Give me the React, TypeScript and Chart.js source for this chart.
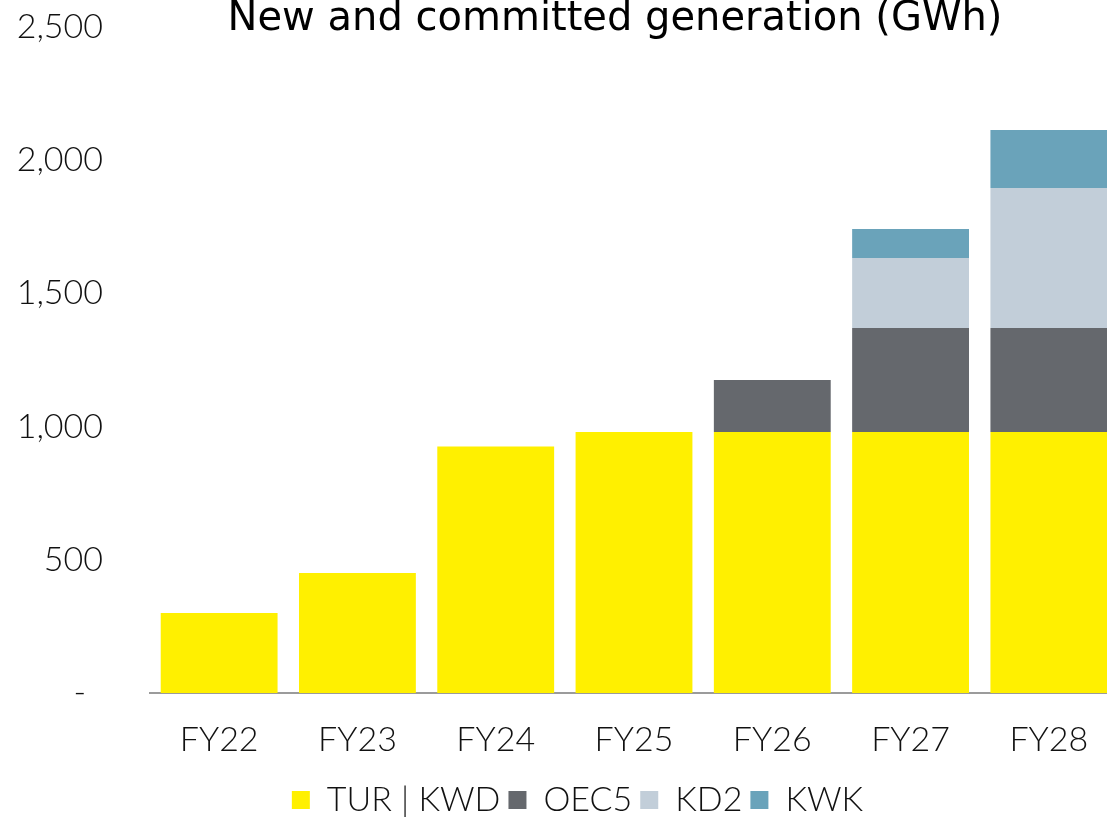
import React, { useEffect, useRef } from 'react';
import { Chart, registerables } from 'chart.js';

Chart.register(...registerables);

const categories = ['FY22', 'FY23', 'FY24', 'FY25', 'FY26', 'FY27', 'FY28'];
const turKwd = [300, 450, 925, 980, 980, 980, 980];
const oec5 = [0, 0, 0, 0, 195, 390, 390];
const kd2 = [0, 0, 0, 0, 0, 263, 526];
const kwk = [0, 0, 0, 0, 0, 109, 217];
const yTicks = [0, 500, 1000, 1500, 2000, 2500];

const seriesNames = ['TUR | KWD', 'OEC5', 'KD2', 'KWK'];
const seriesColors = ['#FFF000', '#65686D', '#C2CED9', '#6AA3BA'];

const FONT = 'Lato, "Open Sans", sans-serif';
const TITLE_FONT = '"DejaVu Sans", sans-serif';

const shiftPlugin = {
  id: 'shiftBlocks',
  beforeDraw(chart: any) {
    const t = chart.titleBlock;
    if (t) {
      const w = t.right - t.left;
      t.left = 615 - w / 2;
      t.right = 615 + w / 2;
    }
    const l = chart.legend;
    if (l) {
      const w = l.right - l.left;
      l.left = 577.5 - w / 2;
      l.right = 577.5 + w / 2;
    }
  },
};

export default function App() {
  const ref = useRef<HTMLCanvasElement>(null);
  useEffect(() => {
    if (!ref.current) return;
    const data = [turKwd, oec5, kd2, kwk];
    const chart = new Chart(ref.current, {
      type: 'bar',
      data: {
        labels: categories,
        datasets: seriesNames.map((name, i) => ({
          label: name,
          data: data[i],
          backgroundColor: seriesColors[i],
          borderWidth: 0,
          categoryPercentage: 1,
          barPercentage: 0.845,
        })),
      },
      plugins: [shiftPlugin],
      options: {
        responsive: false,
        animation: false,
        layout: { padding: { left: 0, right: 2, top: 0, bottom: 0 } },
        plugins: {
          title: {
            display: true,
            text: 'New and committed generation (GWh)',
            color: '#000',
            font: { family: TITLE_FONT, size: 40, weight: 'normal' as any, lineHeight: 1 },
            padding: { top: 0, bottom: -13 },
          },
          legend: {
            display: true,
            position: 'bottom',
            labels: {
              color: '#111',
              font: { family: FONT, size: 34, weight: 300 as any },
              boxWidth: 18,
              boxHeight: 18,
              padding: 8,
            },
          },
          tooltip: { enabled: false },
        },
        scales: {
          x: {
            stacked: true,
            grid: { display: false, drawTicks: false },
            border: { display: true, color: '#9B9B9B', width: 2 },
            afterFit(scale: any) {
              scale.height = 82;
            },
            ticks: {
              color: '#111',
              font: { family: FONT, size: 34, weight: 300 as any },
              padding: 27,
            },
          },
          y: {
            stacked: true,
            min: 0,
            max: 2500,
            grid: { display: false, drawTicks: false },
            border: { display: false },
            afterFit(scale: any) {
              scale.width = 150;
              scale.paddingTop = 20;
              scale.paddingBottom = 20;
            },
            afterBuildTicks(scale: any) {
              scale.ticks = yTicks.map((v) => ({ value: v }));
            },
            ticks: {
              color: '#111',
              font: { family: FONT, size: 34, weight: 300 as any },
              padding: 47,
              callback: (v: any) => (Number(v) === 0 ? '-\u2002' : Number(v).toLocaleString('en-US')),
            },
          },
        },
      },
    });
    return () => chart.destroy();
  }, []);
  return (
    <div style={{ position: 'fixed', left: 0, top: 0, width: 1107, height: 818, overflow: 'hidden', background: '#fff' }}>
      <canvas ref={ref} width={1120} height={827} style={{ position: 'absolute', left: 0, top: 0, width: 1120, height: 827 }} />
    </div>
  );
}
